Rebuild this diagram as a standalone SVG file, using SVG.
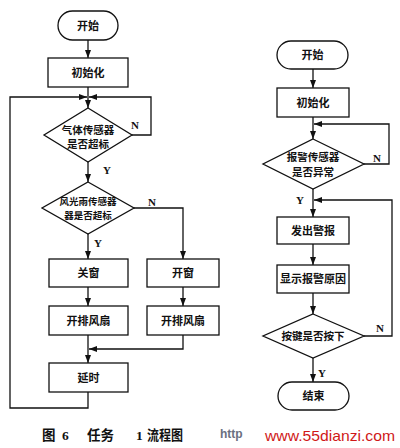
<svg xmlns="http://www.w3.org/2000/svg" width="400" height="448" viewBox="0 0 400 448">
<defs>
<marker id="ah" markerUnits="userSpaceOnUse" markerWidth="8" markerHeight="6" refX="8" refY="3" orient="auto">
<path d="M0,0 L8,3 L0,6 z" fill="#111"/>
</marker>
<style>
.s{fill:#fff;stroke:#111;stroke-width:1.3}
.c{fill:none;stroke:#111;stroke-width:1.3;marker-end:url(#ah)}
.t{font-family:"Liberation Serif","Noto Sans CJK SC",serif;font-size:11px;font-weight:bold;fill:#111;text-anchor:middle}
.d{font-size:10.5px}
.d2{font-size:9.5px}
.yn{font-family:"Liberation Serif",serif;font-size:11px;font-weight:bold;fill:#111;text-anchor:middle}
.cap{font-family:"Liberation Serif","Noto Sans CJK SC",serif;font-size:13.5px;font-weight:bold;fill:#111}
</style>
</defs>
<rect width="400" height="448" fill="#fff"/>

<g id="connectors">
<path class="c" d="M88,40 V58"/>
<path class="c" d="M88,87 V108"/>
<path class="c" d="M88,392 V408 H10 V97 H87"/>
<path class="c" d="M132,135 H151 V97 H89"/>
<path class="c" d="M88,162 V182"/>
<path class="c" d="M88,234 V259"/>
<path class="c" d="M134,208 H183 V259"/>
<path class="c" d="M88,287 V306"/>
<path class="c" d="M183,287 V306"/>
<path class="c" d="M88,335 V363"/>
<path class="c" d="M183,335 V349 H89"/>

<path class="c" d="M313,69 V88"/>
<path class="c" d="M313,117 V139"/>
<path class="c" d="M364,164 H389 V124 H314"/>
<path class="c" d="M313,189 V217"/>
<path class="c" d="M364,336 H392 V200 H314"/>
<path class="c" d="M313,244 V265"/>
<path class="c" d="M313,293 V314"/>
<path class="c" d="M313,358 V382"/>

<text class="yn" x="135" y="129">N</text>
<text class="yn" x="107" y="174">Y</text>
<text class="yn" x="152" y="206">N</text>
<text class="yn" x="98" y="247">Y</text>
<text class="yn" x="377" y="162">N</text>
<text class="yn" x="300" y="204">Y</text>
<text class="yn" x="380" y="332">N</text>
<text class="yn" x="322" y="377">Y</text>
</g>

<g id="start1">
<rect class="s" x="58" y="11" width="60" height="29" rx="14.5"/>
<text class="t" x="88" y="29.5">开始</text>
</g>
<g id="init1">
<rect class="s" x="48" y="58" width="80" height="29"/>
<text class="t" x="88" y="76.5">初始化</text>
</g>
<g id="gas">
<polygon class="s" points="88,108 132,135 88,162 44,135"/>
<text class="t d" x="88" y="134">气体传感器</text>
<text class="t d" x="88" y="148">是否超标</text>
</g>
<g id="wind">
<polygon class="s" points="88,182 134,208 88,234 42,208"/>
<text class="t d2" x="88" y="205">风光雨传感器</text>
<text class="t d2" x="88" y="219">器是否超标</text>
</g>
<g id="close">
<rect class="s" x="49" y="259" width="79" height="28"/>
<text class="t" x="88.5" y="277">关窗</text>
</g>
<g id="open">
<rect class="s" x="147" y="259" width="72" height="28"/>
<text class="t" x="183" y="277">开窗</text>
</g>
<g id="fan1">
<rect class="s" x="49" y="306" width="79" height="29"/>
<text class="t" x="88.5" y="324.5">开排风扇</text>
</g>
<g id="fan2">
<rect class="s" x="147" y="306" width="72" height="29"/>
<text class="t" x="183" y="324.5">开排风扇</text>
</g>
<g id="delay">
<rect class="s" x="49" y="363" width="79" height="29"/>
<text class="t" x="88.5" y="381.5">延时</text>
</g>

<g id="start2">
<rect class="s" x="277" y="41" width="71" height="28" rx="14"/>
<text class="t" x="312.5" y="59">开始</text>
</g>
<g id="init2">
<rect class="s" x="277" y="88" width="72" height="29"/>
<text class="t" x="313" y="106.5">初始化</text>
</g>
<g id="alarm">
<polygon class="s" points="313,139 364,164 313,189 263,164"/>
<text class="t d" x="313" y="161">报警传感器</text>
<text class="t d" x="313" y="176">是否异常</text>
</g>
<g id="issue">
<rect class="s" x="277" y="217" width="72" height="27"/>
<text class="t" x="313" y="234.5">发出警报</text>
</g>
<g id="show">
<rect class="s" x="277" y="265" width="72" height="28"/>
<text class="t" x="313" y="283">显示报警原因</text>
</g>
<g id="key">
<polygon class="s" points="313,314 364,336 313,358 263,336"/>
<text class="t d" x="313" y="340">按键是否按下</text>
</g>
<g id="end">
<rect class="s" x="278" y="382" width="71" height="28" rx="14"/>
<text class="t" x="313.5" y="400">结束</text>
</g>

<g id="caption">
<text class="cap" x="42" y="440">图</text>
<text class="cap" x="62" y="440">6</text>
<text class="cap" x="87" y="440">任务</text>
<text class="cap" x="136" y="440">1</text>
<text class="cap" x="147" y="440" textLength="36" lengthAdjust="spacingAndGlyphs">流程图</text>
</g>
<g id="watermark">
<text x="220" y="438" style="font-family:'Liberation Sans',sans-serif;font-size:12px;font-weight:bold;fill:#6a7080">http</text>
<text x="265" y="441" textLength="130" lengthAdjust="spacingAndGlyphs" style="font-family:'Liberation Sans',sans-serif;font-size:15px;fill:#d01818">www.55dianzi.com</text>
</g>
</svg>
